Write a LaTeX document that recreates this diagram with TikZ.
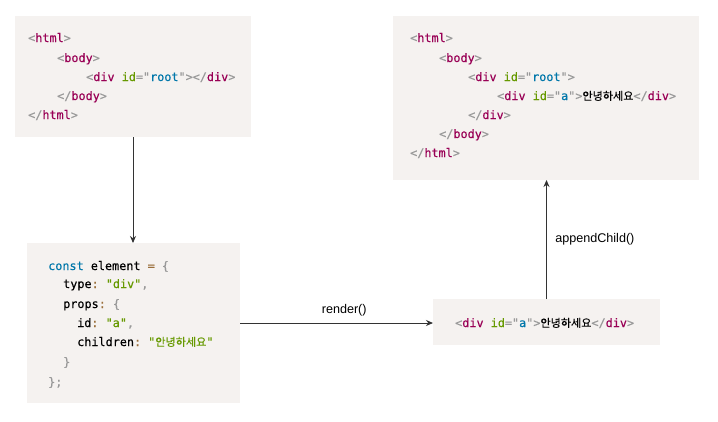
\documentclass[tikz,border=0pt]{standalone}
\usepackage{fontspec}
\usetikzlibrary{arrows.meta}
\setmainfont{Liberation Sans}
\setmonofont{DejaVu Sans Mono}[FakeBold=0.35]
\newfontfamily\kr{Noto Sans CJK KR}[Scale=0.94, FakeBold=0.3]
\definecolor{cbg}{HTML}{F5F2F0}
\definecolor{cpunct}{HTML}{999999}
\definecolor{ctag}{HTML}{990055}
\definecolor{cattr}{HTML}{669900}
\definecolor{cval}{HTML}{0077AA}
\definecolor{ckw}{HTML}{0077AA}
\definecolor{cstr}{HTML}{669900}
\definecolor{cop}{HTML}{9A6E3A}
\definecolor{cline}{HTML}{333333}
\newcommand{\Pu}[1]{\textcolor{cpunct}{#1}}
\newcommand{\Tg}[1]{\textcolor{ctag}{#1}}
\newcommand{\An}[1]{\textcolor{cattr}{#1}}
\newcommand{\Av}[1]{\textcolor{cval}{#1}}
\newcommand{\Kw}[1]{\textcolor{ckw}{#1}}
\newcommand{\St}[1]{\textcolor{cstr}{#1}}
\newcommand{\Op}[1]{\textcolor{cop}{#1}}
\newcommand{\Hi}{{\kr 안녕하세요}}
\tikzset{
  codebox/.style={fill=cbg, draw=none, inner sep=0pt, outer sep=0pt},
  code/.style={anchor=base west, inner sep=0pt, font=\ttfamily\fontsize{11.8}{14}\selectfont, text=black},
  conn/.style={draw=cline, line width=0.9pt, -{Stealth[length=7pt,width=6pt]}},
  lbl/.style={font=\fontsize{12.6}{15}\selectfont, text=black}
}
\begin{document}
\begin{tikzpicture}[x=1pt,y=-1pt]
\useasboundingbox (0,0) rectangle (718,421);
\fill[white] (0,0) rectangle (718,421);
% boxes
\node[codebox, minimum width=236pt, minimum height=121pt] (A) at (133,76.5) {};
\node[codebox, minimum width=306pt, minimum height=164pt] (B) at (546,98) {};
\node[codebox, minimum width=213pt, minimum height=160pt] (C) at (133.5,323) {};
\node[codebox, minimum width=227pt, minimum height=46pt] (D) at (546.5,322) {};
% box A
\node[code] (a1) at (28,42)  {\Pu{<}\Tg{html}\Pu{>}};
\node[code] (a2) at (57,62)  {\Pu{<}\Tg{body}\Pu{>}};
\node[code] (a3) at (86,81)  {\Pu{<}\Tg{div} \An{id}\Pu{="}\Av{root}\Pu{"></}\Tg{div}\Pu{>}};
\node[code] (a4) at (57,100) {\Pu{</}\Tg{body}\Pu{>}};
\node[code] (a5) at (28,119) {\Pu{</}\Tg{html}\Pu{>}};
% box B
\node[code] (b1) at (410,42)  {\Pu{<}\Tg{html}\Pu{>}};
\node[code] (b2) at (439,62)  {\Pu{<}\Tg{body}\Pu{>}};
\node[code] (b3) at (468,81)  {\Pu{<}\Tg{div} \An{id}\Pu{="}\Av{root}\Pu{">}};
\node[code] (b4) at (497,100) {\Pu{<}\Tg{div} \An{id}\Pu{="}\Av{a}\Pu{">}\Hi\Pu{</}\Tg{div}\Pu{>}};
\node[code] (b5) at (468,119) {\Pu{</}\Tg{div}\Pu{>}};
\node[code] (b6) at (439,138) {\Pu{</}\Tg{body}\Pu{>}};
\node[code] (b7) at (410,157) {\Pu{</}\Tg{html}\Pu{>}};
% box C
\node[code] (c1) at (48,270) {\Kw{const} element \Op{=} \Pu{\{}};
\node[code] (c2) at (63,288) {type\Op{:} \St{"div"}\Pu{,}};
\node[code] (c3) at (63,308) {props\Op{:} \Pu{\{}};
\node[code] (c4) at (77,327) {id\Op{:} \St{"a"}\Pu{,}};
\node[code] (c5) at (77,346) {children\Op{:} \St{"\Hi"}};
\node[code] (c6) at (63,366) {\Pu{\}}};
\node[code] (c7) at (48,386) {\Pu{\};}};
% box D
\node[code] (d1) at (455,327) {\Pu{<}\Tg{div} \An{id}\Pu{="}\Av{a}\Pu{">}\Hi\Pu{</}\Tg{div}\Pu{>}};
% connectors
\draw[conn] (A.south) -- (A.south |- C.north);
\draw[conn] (C.east) -- node[lbl, above=3pt, pos=0.54] (lr) {render()} (C.east -| D.west);
\draw[conn] (D.north) -- node[lbl, right=5pt] (la) {appendChild()} (D.north |- B.south);
\end{tikzpicture}
\end{document}
